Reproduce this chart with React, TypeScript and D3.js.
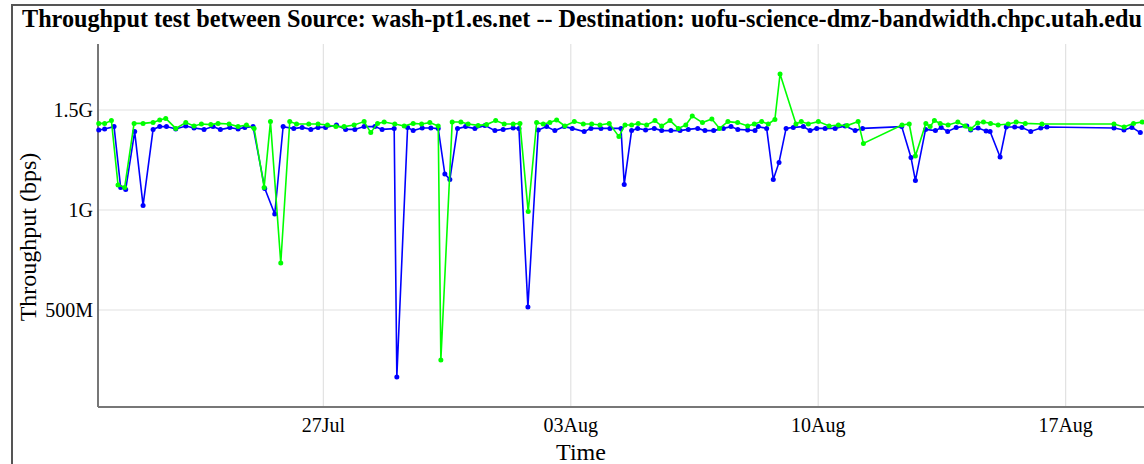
import * as d3 from "d3";
import { useEffect, useRef } from "react";

// hours since 2014-07-20 15:00, throughput in Gbps
const startTime = new Date(2014, 6, 20, 15, 0);
const endTime = new Date(2014, 7, 19, 12, 0);

const blueHours = [
  0.5, 4.5, 10.9, 15.4, 18.8, 24.9, 30.6, 37.4, 41.9, 46.5, 52.8, 59.6, 65.2, 72.0, 78.1, 83.1,
  89.5, 95.1, 99.7, 105.3, 113.2, 120.0, 125.7, 132.9, 138.6, 144.5, 149.4, 154.5, 161.9, 168.1,
  174.4, 180.7, 188.0, 192.9, 201.1, 202.9, 210.2, 214.0, 220.1, 226.0, 231.0, 235.5, 238.9,
  244.1, 249.6, 255.9, 262.7, 269.5, 275.1, 281.9, 285.8, 291.9, 298.9, 304.6, 310.2, 316.6,
  322.0, 330.1, 334.7, 341.5, 347.6, 355.1, 357.3, 362.3, 366.4, 371.8, 377.7, 382.7, 389.0,
  395.2, 400.8, 407.2, 412.1, 418.0, 424.6, 429.8, 434.4, 441.1, 446.1, 448.3, 454.0, 458.5,
  462.4, 467.2, 472.1, 478.9, 483.5, 488.0, 493.7, 500.5, 507.3, 514.1, 519.1, 545.7, 552.0,
  555.0, 561.9, 568.6, 572.5, 576.9, 582.7, 589.9, 592.5, 597.6, 603.0, 605.7, 612.5, 616.7,
  622.4, 627.3, 633.3, 640.1, 644.3, 689.8, 696.6, 702.0, 707.7,
];
const blueGbps = [
  1.400, 1.405, 1.417, 1.112, 1.103, 1.392, 1.023, 1.403, 1.417, 1.417, 1.405, 1.420, 1.410,
  1.403, 1.417, 1.402, 1.412, 1.405, 1.413, 1.417, 1.108, 0.980, 1.417, 1.407, 1.413, 1.403,
  1.413, 1.413, 1.425, 1.403, 1.403, 1.417, 1.417, 1.403, 1.407, 0.165, 1.413, 1.397, 1.410,
  1.410, 1.407, 1.180, 1.153, 1.407, 1.417, 1.407, 1.423, 1.397, 1.403, 1.410, 1.408, 0.515,
  1.400, 1.417, 1.397, 1.417, 1.408, 1.392, 1.408, 1.408, 1.408, 1.408, 1.128, 1.397, 1.408,
  1.400, 1.408, 1.397, 1.397, 1.397, 1.403, 1.408, 1.397, 1.397, 1.408, 1.417, 1.403, 1.400,
  1.397, 1.417, 1.408, 1.153, 1.238, 1.408, 1.413, 1.417, 1.397, 1.408, 1.408, 1.408, 1.420,
  1.397, 1.408, 1.417, 1.263, 1.147, 1.403, 1.397, 1.412, 1.393, 1.412, 1.420, 1.400, 1.410,
  1.395, 1.393, 1.265, 1.415, 1.415, 1.412, 1.393, 1.410, 1.415, 1.410, 1.400, 1.413, 1.387,
];

const greenHours = [
  0.5, 4.5, 9.1, 13.6, 18.1, 24.5, 30.6, 37.4, 41.9, 46.0, 52.8, 59.6, 65.2, 70.2, 76.6, 81.5,
  89.0, 95.1, 100.8, 106.0, 112.8, 117.1, 124.1, 130.2, 134.8, 143.1, 149.4, 155.8, 161.5,
  167.1, 173.9, 180.7, 185.2, 189.8, 194.3, 201.5, 207.9, 214.0, 219.7, 225.3, 231.0, 232.8,
  240.5, 246.4, 251.3, 258.1, 263.8, 270.0, 275.8, 281.9, 286.5, 292.1, 297.8, 302.3, 306.8,
  311.4, 317.0, 323.4, 329.5, 335.2, 340.8, 347.1, 353.7, 357.8, 362.3, 366.8, 372.5, 378.2,
  382.7, 388.4, 394.0, 399.1, 403.5, 410.4, 416.8, 422.0, 427.7, 434.3, 441.1, 445.6, 450.6,
  455.1, 459.6, 463.1, 473.9, 477.5, 482.3, 489.1, 496.4, 502.7, 508.6, 516.1, 519.7, 545.9,
  550.8, 555.0, 562.1, 565.0, 567.9, 571.8, 577.2, 583.8, 588.7, 592.5, 597.3, 601.2, 606.0,
  611.2, 618.0, 623.4, 629.6, 640.9, 689.8, 696.7, 703.1, 709.0,
];
const greenGbps = [
  1.433, 1.433, 1.447, 1.125, 1.113, 1.433, 1.433, 1.438, 1.450, 1.458, 1.408, 1.437, 1.420,
  1.430, 1.427, 1.433, 1.430, 1.417, 1.425, 1.408, 1.113, 1.442, 0.735, 1.442, 1.430, 1.430,
  1.430, 1.425, 1.417, 1.417, 1.425, 1.442, 1.387, 1.433, 1.440, 1.430, 1.420, 1.433, 1.430,
  1.437, 1.420, 0.250, 1.440, 1.440, 1.430, 1.423, 1.427, 1.447, 1.430, 1.430, 1.433, 0.992,
  1.437, 1.430, 1.437, 1.450, 1.420, 1.442, 1.430, 1.430, 1.425, 1.433, 1.367, 1.425, 1.425,
  1.433, 1.425, 1.447, 1.420, 1.447, 1.408, 1.425, 1.470, 1.437, 1.455, 1.408, 1.442, 1.437,
  1.420, 1.430, 1.442, 1.430, 1.453, 1.680, 1.430, 1.442, 1.430, 1.442, 1.420, 1.425, 1.422,
  1.442, 1.333, 1.425, 1.430, 1.270, 1.433, 1.417, 1.447, 1.433, 1.425, 1.440, 1.420, 1.405,
  1.435, 1.440, 1.433, 1.425, 1.430, 1.440, 1.433, 1.430, 1.430, 1.415, 1.433, 1.440,
];

const yTicks = [5e8, 1e9, 1.5e9];

const title =
  "Throughput test between Source: wash-pt1.es.net -- Destination: uofu-science-dmz-bandwidth.chpc.utah.edu";

export default function App() {
  const ref = useRef<SVGSVGElement>(null);

  useEffect(() => {
    const svg = d3.select(ref.current);
    svg.selectAll("*").remove();

    const left = 98,
      right = 1154,
      top = 44,
      bottom = 407;
    const font = "Liberation Serif, Times New Roman, serif";

    const x = d3.scaleTime().domain([startTime, endTime]).range([left, right]);
    const y = d3.scaleLinear().domain([15e6, 1.83e9]).range([bottom, top]);

    const toPoints = (hours: number[], gbps: number[]) =>
      hours.map((h, i) => ({ t: d3.timeMinute.offset(startTime, Math.round(h * 60)), v: gbps[i] * 1e9 }));

    const series = [
      { color: "#0000ff", pts: toPoints(blueHours, blueGbps) },
      { color: "#00ff00", pts: toPoints(greenHours, greenGbps) },
    ];

    svg
      .append("rect")
      .attr("x", 12)
      .attr("y", 5)
      .attr("width", 1200)
      .attr("height", 520)
      .attr("fill", "white")
      .attr("stroke", "#555")
      .attr("stroke-width", 2);

    svg
      .append("text")
      .attr("x", 22)
      .attr("y", 27)
      .attr("font-family", font)
      .attr("font-weight", "bold")
      .attr("font-size", 24.2)
      .text(title);

    const xTicks = x.ticks(d3.timeWeek);
    const fmt = d3.timeFormat("%d%b");

    // grid
    svg
      .append("g")
      .selectAll("line")
      .data(xTicks)
      .enter()
      .append("line")
      .attr("x1", (d) => x(d))
      .attr("x2", (d) => x(d))
      .attr("y1", top)
      .attr("y2", bottom)
      .attr("stroke", "#e2e2e2")
      .attr("stroke-width", 1.2);

    svg
      .append("g")
      .selectAll("line")
      .data(yTicks)
      .enter()
      .append("line")
      .attr("x1", left)
      .attr("x2", right)
      .attr("y1", (d) => y(d))
      .attr("y2", (d) => y(d))
      .attr("stroke", "#e2e2e2")
      .attr("stroke-width", 1.2);

    // axes
    svg
      .append("line")
      .attr("x1", left)
      .attr("x2", left)
      .attr("y1", top)
      .attr("y2", bottom)
      .attr("stroke", "#777")
      .attr("stroke-width", 2);
    svg
      .append("line")
      .attr("x1", left)
      .attr("x2", right)
      .attr("y1", bottom)
      .attr("y2", bottom)
      .attr("stroke", "#777")
      .attr("stroke-width", 2);

    svg
      .append("g")
      .selectAll("text")
      .data(xTicks)
      .enter()
      .append("text")
      .attr("x", (d) => x(d))
      .attr("y", 432)
      .attr("text-anchor", "middle")
      .attr("font-family", font)
      .attr("font-size", 20)
      .text((d) => fmt(d));

    svg
      .append("g")
      .selectAll("text")
      .data(yTicks)
      .enter()
      .append("text")
      .attr("x", 93)
      .attr("y", (d) => y(d) + 7)
      .attr("text-anchor", "end")
      .attr("font-family", font)
      .attr("font-size", 20)
      .text((d) => d3.format("~s")(d));

    svg
      .append("text")
      .attr("x", 581)
      .attr("y", 460)
      .attr("text-anchor", "middle")
      .attr("font-family", font)
      .attr("font-size", 24)
      .text("Time");

    svg
      .append("text")
      .attr("transform", "translate(36,237) rotate(-90)")
      .attr("text-anchor", "middle")
      .attr("font-family", font)
      .attr("font-size", 24)
      .text("Throughput (bps)");

    const line = d3
      .line<{ t: Date; v: number }>()
      .x((d) => x(d.t))
      .y((d) => y(d.v));

    series.forEach((s) => {
      svg
        .append("path")
        .datum(s.pts)
        .attr("d", line)
        .attr("fill", "none")
        .attr("stroke", s.color)
        .attr("stroke-width", 1.6);
      svg
        .append("g")
        .selectAll("circle")
        .data(s.pts)
        .enter()
        .append("circle")
        .attr("cx", (d) => x(d.t))
        .attr("cy", (d) => y(d.v))
        .attr("r", 2.5)
        .attr("fill", s.color);
    });
  }, []);

  return (
    <svg
      ref={ref}
      width={1144}
      height={464}
      style={{ position: "absolute", left: 0, top: 0, overflow: "hidden", background: "white" }}
    />
  );
}
